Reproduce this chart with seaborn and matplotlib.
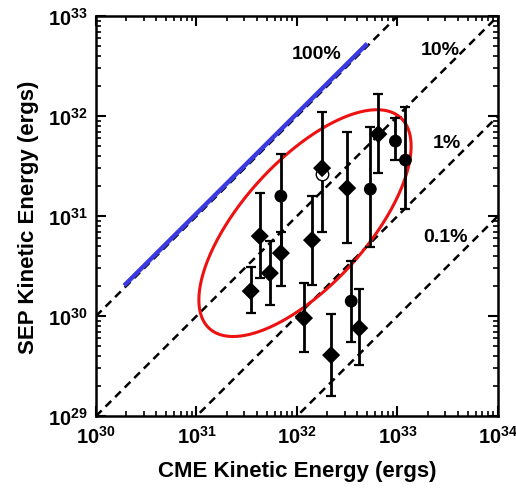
import numpy as np
import pandas as pd
import seaborn as sns
import matplotlib
matplotlib.use("Agg")
import matplotlib.pyplot as plt
from matplotlib.ticker import LogLocator, FuncFormatter, NullFormatter

# Datos (exponentes log10, en ergs)
cme_log = [31.54, 31.63, 31.73, 31.84, 31.84, 32.07, 32.15, 32.25,
           32.34, 32.50, 32.54, 32.62, 32.73, 32.81, 32.98, 33.08]
sep_log = [30.25, 30.80, 30.43, 31.20, 30.63, 29.98, 30.76, 31.48,
           29.61, 31.28, 30.15, 29.88, 31.27, 31.82, 31.75, 31.56]
sep_hi_log = [30.49, 31.23, 30.75, 31.62, 30.84, 30.33, 31.20, 32.04,
              30.02, 31.84, 30.55, 30.27, 31.89, 32.22, 31.98, 32.09]
sep_lo_log = [30.03, 30.38, 30.11, 30.63, 30.30, 29.64, 30.31, 30.84,
              29.20, 30.73, 29.74, 29.51, 30.69, 31.43, 31.56, 31.07]
forma = ["D", "D", "D", "o", "D", "D", "D", "D",
         "D", "D", "o", "D", "o", "D", "o", "o"]

# Punto abierto detras del rombo
abierto_cme_log = [32.25]
abierto_sep_log = [31.42]

# Lineas de eficiencia (fraccion de la energia del CME)
fracciones = [1.0, 0.1, 0.01, 0.001]
etiquetas_frac = ["100%", "10%", "1%", "0.1%"]
etiqueta_x_log = [32.20, 33.43, 33.49, 33.48]
etiqueta_y_log = [32.63, 32.67, 31.74, 30.80]

# Linea azul (100%)
azul_x_log = [30.28, 32.70]

# Elipse roja (centro, semiejes y angulo en decadas)
elipse_centro = (32.08, 30.93)
elipse_ejes = (1.42, 0.62)
elipse_angulo = 48.0

df = pd.DataFrame({
    "cme": 10.0 ** np.array(cme_log),
    "sep": 10.0 ** np.array(sep_log),
    "hi": 10.0 ** np.array(sep_hi_log),
    "lo": 10.0 ** np.array(sep_lo_log),
    "forma": forma,
})

sns.set_style("ticks")
plt.rcParams["font.family"] = ["Liberation Sans", "DejaVu Sans"]
plt.rcParams["font.weight"] = "bold"
plt.rcParams["text.color"] = "black"
plt.rcParams["axes.labelcolor"] = "black"
plt.rcParams["xtick.color"] = "black"
plt.rcParams["ytick.color"] = "black"
plt.rcParams["axes.edgecolor"] = "black"
plt.rcParams["mathtext.fontset"] = "custom"
plt.rcParams["mathtext.rm"] = "Liberation Sans:bold"
plt.rcParams["mathtext.bf"] = "Liberation Sans:bold"
plt.rcParams["mathtext.it"] = "Liberation Sans:bold"

fig = plt.figure(figsize=(5.16, 4.89), dpi=100)
ax = fig.add_axes([0.186, 0.147, 0.779, 0.818])
ax.set_xscale("log")
ax.set_yscale("log")
ax.set_xlim(1e30, 1e34)
ax.set_ylim(1e29, 1e33)

# Lineas discontinuas
x_linea = np.logspace(30, 34, 200)
for f in fracciones:
    ax.plot(x_linea, f * x_linea, color="black", lw=1.8,
            linestyle=(0, (3.2, 2.2)), zorder=1)

# Linea azul
xa = 10.0 ** np.array(azul_x_log)
ax.plot(xa, xa * 1.06, color="#3a3ae0", lw=3.2, zorder=2,
        solid_capstyle="butt")

# Elipse
t = np.linspace(0, 2 * np.pi, 400)
ang = np.deg2rad(elipse_angulo)
ex = elipse_ejes[0] * np.cos(t) * np.cos(ang) - elipse_ejes[1] * np.sin(t) * np.sin(ang)
ey = elipse_ejes[0] * np.cos(t) * np.sin(ang) + elipse_ejes[1] * np.sin(t) * np.cos(ang)
ax.plot(10.0 ** (elipse_centro[0] + ex), 10.0 ** (elipse_centro[1] + ey),
        color="#ee1111", lw=2.2, zorder=2)

# Barras de error
ax.errorbar(df["cme"], df["sep"],
            yerr=[df["sep"] - df["lo"], df["hi"] - df["sep"]],
            fmt="none", ecolor="black", elinewidth=2.0, capsize=3.5,
            capthick=1.6, zorder=3)

# Punto abierto
ax.plot(10.0 ** np.array(abierto_cme_log), 10.0 ** np.array(abierto_sep_log),
        "o", ms=9, mfc="white", mec="black", mew=1.0, zorder=4)

# Marcadores
sns.scatterplot(data=df, x="cme", y="sep", style="forma",
                markers={"D": "D", "o": "o"}, s=85,
                color="black", edgecolor="black", linewidth=0,
                legend=False, ax=ax, zorder=5)

# Etiquetas de porcentaje
for lab, lx, ly in zip(etiquetas_frac, etiqueta_x_log, etiqueta_y_log):
    ax.text(10.0 ** lx, 10.0 ** ly, lab, fontsize=14, fontweight="bold",
            color="black", ha="center", va="center", zorder=6)

# Ejes
fmt = FuncFormatter(lambda v, p: r"$\mathbf{10^{%d}}$" % round(np.log10(v)))
for eje in (ax.xaxis, ax.yaxis):
    eje.set_major_locator(LogLocator(base=10, numticks=10))
    eje.set_minor_locator(LogLocator(base=10, subs=np.arange(2, 10), numticks=20))
    eje.set_major_formatter(fmt)
    eje.set_minor_formatter(NullFormatter())
ax.tick_params(which="both", direction="in", top=True, right=True)
ax.tick_params(which="major", length=7, width=1.5, labelsize=14.5, pad=6)
ax.tick_params(which="minor", length=3.5, width=1.2)
for s in ax.spines.values():
    s.set_linewidth(1.8)

ax.set_xlabel("CME Kinetic Energy (ergs)", fontsize=16, fontweight="bold", labelpad=10)
ax.set_ylabel("SEP Kinetic Energy (ergs)", fontsize=16, fontweight="bold", labelpad=6)

fig.savefig("out.png", dpi=100)
